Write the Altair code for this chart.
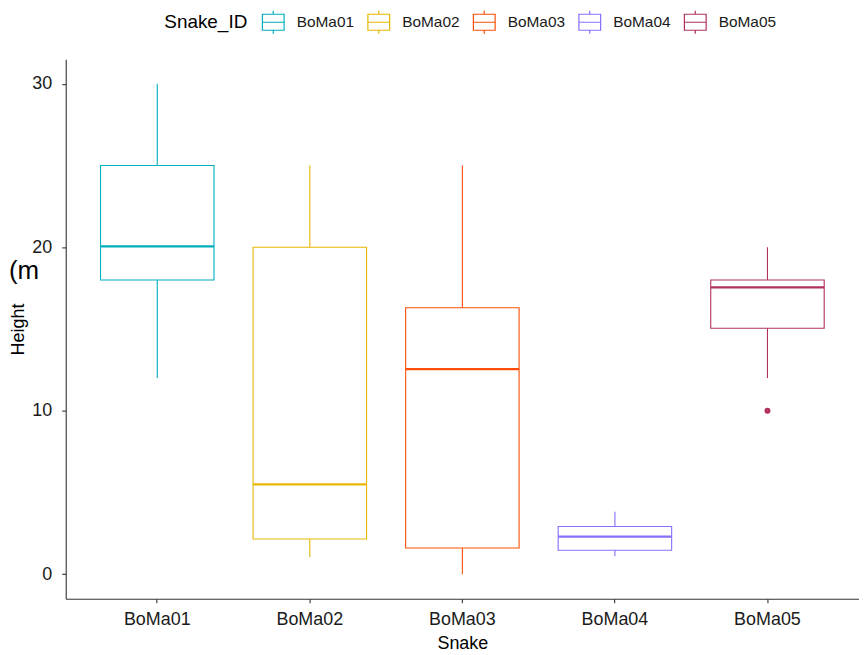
import altair as alt
import pandas as pd

snakes = ["BoMa01", "BoMa02", "BoMa03", "BoMa04", "BoMa05"]
lower = [12.0, 1.05, 0.0, 1.1, 12.0]
q1 = [18.0, 2.15, 1.6, 1.47, 15.05]
median = [20.05, 5.5, 12.55, 2.3, 17.55]
q3 = [25.0, 20.0, 16.3, 2.92, 18.0]
upper = [30.0, 25.0, 25.0, 3.82, 20.0]
outlier_snake = ["BoMa05"]
outlier_value = [10.0]
colors = ["#00AFBB", "#E7B800", "#FC4E07", "#8470FF", "#B03060"]

df = pd.DataFrame({"Snake_ID": snakes, "lower": lower, "q1": q1,
                   "median": median, "q3": q3, "upper": upper})
out_df = pd.DataFrame({"Snake_ID": outlier_snake, "Height": outlier_value})

x = alt.X("Snake_ID:N", title="Snake", sort=snakes,
          scale=alt.Scale(paddingInner=0, paddingOuter=0.1),
          axis=alt.Axis(labelAngle=0))
yscale = alt.Scale(domain=[-1.5, 31.5], nice=False, zero=False)
cscale = alt.Scale(domain=snakes, range=colors)

box_path = ("M-0.95,-0.7H0.95V0.7H-0.95Z M-0.95,0H0.95 "
            "M0,-0.7V-1 M0,0.7V1")

legend = alt.Legend(
    orient="none", legendX=99, legendY=-50, direction="horizontal",
    titleOrient="left", titleFont="Liberation Sans", titleFontSize=19,
    titleFontWeight="normal", titleColor="#000000", titlePadding=13,
    labelFont="Liberation Sans", labelFontSize=15.5, labelColor="#1a1a1a",
    symbolType=box_path, symbolSize=529, symbolStrokeWidth=1.2,
    symbolFillColor="transparent", labelOffset=11, columnPadding=11,
)
col = alt.Color("Snake_ID:N", sort=snakes, scale=cscale,
                title="Snake_ID", legend=legend)

base = alt.Chart(df)

wlow = base.mark_rule(strokeWidth=1.1).encode(
    x=x, y=alt.Y("lower:Q", scale=yscale, title="Height",
                 axis=alt.Axis(values=[0, 10, 20, 30])),
    y2="q1:Q", color=col)
whigh = base.mark_rule(strokeWidth=1.1).encode(
    x=x, y=alt.Y("q3:Q", scale=yscale), y2="upper:Q", color=col)
box = base.mark_bar(filled=False, size=114, strokeWidth=1.1).encode(
    x=x, y=alt.Y("q1:Q", scale=yscale), y2="q3:Q", color=col)
med = base.mark_bar(filled=False, size=114, strokeWidth=2.2).encode(
    x=x, y=alt.Y("median:Q", scale=yscale), y2="median:Q", color=col)
pts = alt.Chart(out_df).mark_point(filled=False, size=8, strokeWidth=3.2,
                                   opacity=1).encode(
    x=x, y=alt.Y("Height:Q", scale=yscale), color=col)
note = alt.Chart(pd.DataFrame({"t": ["(m"]})).mark_text(
    align="left", baseline="middle", fontSize=26, font="Liberation Sans",
    color="#000000").encode(x=alt.value(-57), y=alt.value(213), text="t:N")

chart = alt.layer(wlow, whigh, box, med, pts, note).properties(
    width=797, height=542,
    autosize=alt.AutoSizeParams(type="none"),
    padding={"left": 58, "top": 50, "right": 0, "bottom": 52},
).configure_view(stroke=None).configure_axis(
    grid=False, domainColor="#333333", tickColor="#333333", tickSize=4,
    domainWidth=1.1, tickWidth=1.1,
    labelFont="Liberation Sans", labelFontSize=18, labelColor="#1a1a1a",
    titleFont="Liberation Sans", titleFontSize=18, titleFontWeight="normal",
    titleColor="#000000",
).configure_axisX(labelPadding=8, titlePadding=6).configure_axisY(
    labelPadding=10, titlePadding=4
)

chart.save("out.html", embed_options={"renderer": "svg", "actions": False})
